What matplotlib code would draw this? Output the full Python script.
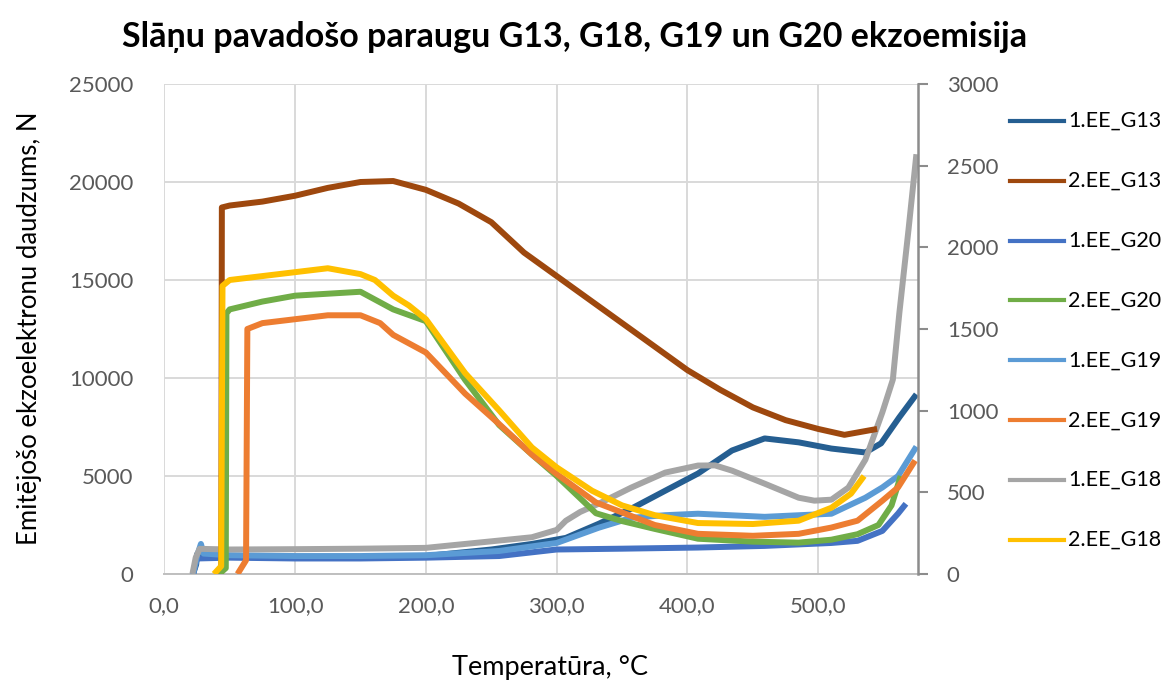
import matplotlib
matplotlib.use("Agg")
import matplotlib.pyplot as plt
from matplotlib.lines import Line2D

plt.rcParams['font.family'] = ['Lato', 'DejaVu Sans']

# ---------------- data ----------------
title = "Slāņu pavadošo paraugu G13, G18, G19 un G20 ekzoemisija"
x_label = "Temperatūra, °C"
y_label = "Emitējošo ekzoelektronu daudzums, N"

x_ticks = [0, 100, 200, 300, 400, 500]
x_tick_labels = ["0,0", "100,0", "200,0", "300,0", "400,0", "500,0"]
left_ticks = [0, 5000, 10000, 15000, 20000, 25000]
right_ticks = [0, 500, 1000, 1500, 2000, 2500, 3000]

# secondary axis series (1.EE_*)
t_1G13 = [22, 24.4, 25, 50, 100, 150, 200, 250, 281, 307, 332, 357, 383, 408, 434, 459, 485, 510, 536, 548, 562, 575]
v_1G13 = [0, 60, 120, 110, 100, 100, 110, 150, 184, 221, 307, 400, 510, 615, 756, 830, 806, 768, 744, 800, 960, 1100]

t_1G20 = [22, 25, 50, 100, 150, 200, 256, 300, 350, 408, 459, 510, 530, 549, 561, 567]
v_1G20 = [0, 95, 100, 95, 95, 100, 110, 150, 155, 162, 172, 190, 203, 264, 370, 430]

t_1G19 = [22, 25, 28, 30, 50, 100, 150, 200, 256, 300, 332, 357, 383, 408, 459, 510, 536, 549, 561, 575]
v_1G19 = [0, 110, 184, 125, 115, 110, 110, 115, 141, 190, 283, 344, 360, 369, 350, 369, 467, 530, 600, 780]

t_1G18 = [21.5, 24, 27, 50, 100, 150, 200, 250, 281, 300, 307, 318, 332, 357, 383, 408, 421, 434, 459, 485, 497, 510, 523, 536, 549, 557, 562, 569, 575]
v_1G18 = [0, 100, 154, 150, 152, 155, 160, 200, 225, 270, 326, 380, 430, 529, 621, 664, 665, 633, 553, 467, 449, 455, 529, 700, 990, 1190, 1600, 2110, 2570]

# primary axis series (2.EE_*)
t_2G13 = [43, 43.6, 44, 50, 75, 100, 125, 150, 175, 200, 225, 250, 275, 300, 325, 350, 375, 400, 425, 450, 475, 500, 520, 545]
v_2G13 = [0, 300, 18700, 18800, 19000, 19300, 19700, 20000, 20050, 19600, 18900, 17950, 16400, 15200, 14000, 12800, 11600, 10400, 9400, 8500, 7850, 7400, 7100, 7400]

t_2G20 = [42, 47, 47.5, 50, 75, 100, 125, 150, 175, 200, 230, 256, 281, 300, 330, 350, 375, 408, 450, 485, 510, 530, 546, 556, 563]
v_2G20 = [0, 300, 13300, 13500, 13900, 14200, 14300, 14400, 13500, 12900, 9900, 7600, 6100, 5000, 3100, 2700, 2300, 1800, 1650, 1600, 1750, 2030, 2500, 3500, 5000]

t_2G19 = [56, 62.5, 63.5, 75, 100, 125, 150, 165, 175, 200, 230, 256, 281, 300, 330, 375, 408, 450, 485, 510, 530, 549, 561, 574]
v_2G19 = [0, 700, 12500, 12800, 13000, 13200, 13200, 12800, 12200, 11300, 9200, 7650, 6100, 5100, 3650, 2500, 2050, 1950, 2050, 2370, 2720, 3740, 4420, 5790]

t_2G18 = [38, 43.5, 44.5, 50, 75, 100, 125, 150, 161, 175, 187, 200, 230, 256, 281, 300, 327, 350, 375, 408, 450, 485, 510, 525, 535]
v_2G18 = [0, 400, 14700, 15000, 15200, 15400, 15600, 15300, 15000, 14200, 13700, 13000, 10250, 8350, 6460, 5440, 4250, 3500, 3000, 2600, 2550, 2720, 3380, 4100, 5000]

legend_labels = ["1.EE_G13", "2.EE_G13", "1.EE_G20", "2.EE_G20",
                 "1.EE_G19", "2.EE_G19", "1.EE_G18", "2.EE_G18"]
colors = {"1.EE_G13": "#255E91", "2.EE_G13": "#9E480E",
          "1.EE_G20": "#4472C4", "2.EE_G20": "#70AD47",
          "1.EE_G19": "#5B9BD5", "2.EE_G19": "#ED7D31",
          "1.EE_G18": "#A5A5A5", "2.EE_G18": "#FFC000"}

secondary = [("1.EE_G13", t_1G13, v_1G13), ("1.EE_G20", t_1G20, v_1G20),
             ("1.EE_G19", t_1G19, v_1G19), ("1.EE_G18", t_1G18, v_1G18)]
primary = [("2.EE_G13", t_2G13, v_2G13), ("2.EE_G20", t_2G20, v_2G20),
           ("2.EE_G19", t_2G19, v_2G19), ("2.EE_G18", t_2G18, v_2G18)]

# ---------------- figure ----------------
W, H = 1165, 688
fig = plt.figure(figsize=(W / 100, H / 100), dpi=100)
rect = [164.3 / W, 1 - 574 / H, (917.7 - 164.3) / W, (574 - 84) / H]

tick_color = "#595959"
grid_color = "#D9D9D9"
lw = 4.3
fs_tick = 16

# background axes: grid + x axis + left axis labels
axg = fig.add_axes(rect)
axg.set_xlim(0, 576)
axg.set_ylim(0, 25000)
axg.set_xticks(x_ticks)
axg.set_xticklabels(x_tick_labels)
axg.set_yticks(left_ticks)
axg.set_yticklabels([str(v) for v in left_ticks])
axg.grid(True, color=grid_color, lw=1.4)
axg.set_axisbelow(True)
for s in ["top", "right", "left"]:
    axg.spines[s].set_visible(False)
axg.spines["bottom"].set_color("#BFBFBF")
axg.spines["bottom"].set_linewidth(1.4)
axg.tick_params(axis="x", length=0, pad=16, labelsize=fs_tick, labelcolor=tick_color)
axg.tick_params(axis="y", length=0, pad=22, labelsize=fs_tick, labelcolor=tick_color)
axg.set_zorder(0)

# secondary (right) axes
ax2 = fig.add_axes(rect, sharex=axg)
ax2.patch.set_visible(False)
ax2.set_ylim(0, 3000)
ax2.yaxis.tick_right()
ax2.set_yticks(right_ticks)
ax2.set_yticklabels([str(v) for v in right_ticks])
ax2.tick_params(axis="y", direction="out", length=7, width=1.5, color="#8C8C8C",
                pad=14, labelsize=fs_tick, labelcolor=tick_color)
ax2.xaxis.set_visible(False)
for s in ["top", "left", "bottom"]:
    ax2.spines[s].set_visible(False)
ax2.spines["right"].set_color("#8C8C8C")
ax2.spines["right"].set_linewidth(1.8)
ax2.set_zorder(1)
for name, t, v in secondary:
    ax2.plot(t, v, color=colors[name], lw=lw, solid_capstyle="butt")

# primary (left) data axes on top
ax = fig.add_axes(rect, sharex=axg)
ax.patch.set_visible(False)
ax.set_ylim(0, 25000)
ax.axis("off")
ax.set_zorder(2)
for name, t, v in primary:
    ax.plot(t, v, color=colors[name], lw=lw, solid_capstyle="butt")

# texts
fig.text(575 / W, 1 - 37 / H, title, ha="center", va="center",
         fontsize=24.5, fontweight="bold", color="black")
fig.text(550 / W, 1 - 668 / H, x_label, ha="center", va="center",
         fontsize=19.5, color="black")
fig.text(30 / W, 1 - 328 / H, y_label, ha="center", va="center",
         rotation=90, fontsize=18.5, color="black")

# legend (manual placement)
for i, name in enumerate(legend_labels):
    yc = 1 - (120.7 + 59.9 * i) / H
    fig.add_artist(Line2D([1010 / W, 1064 / W], [yc, yc], color=colors[name],
                          lw=3.0, transform=fig.transFigure))
    fig.text(1068 / W, yc, name, ha="left", va="center", fontsize=15.5, color="black")

fig.savefig("out.png", dpi=100)
